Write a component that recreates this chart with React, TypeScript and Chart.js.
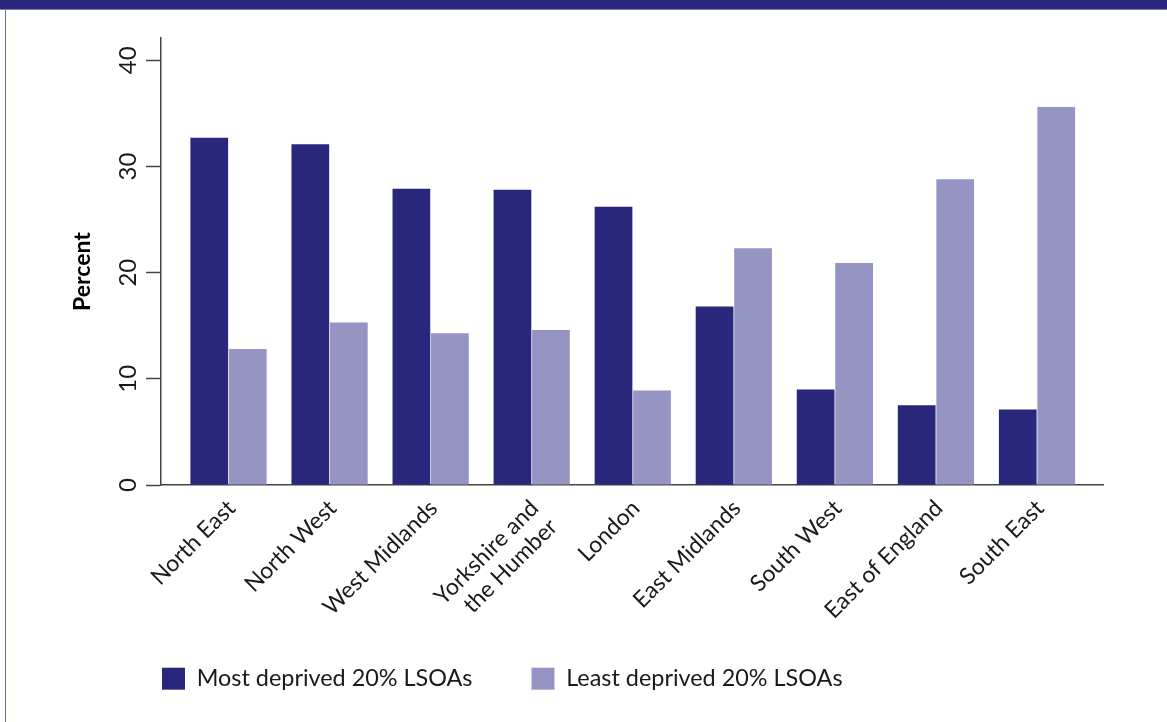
import React, { useEffect, useRef } from "react";
import { Chart, registerables } from "chart.js";

Chart.register(...registerables);

const CATEGORIES: (string | string[])[] = [
  "North East",
  "North West",
  "West Midlands",
  ["Yorkshire and", "the Humber"],
  "London",
  "East Midlands",
  "South West",
  "East of England",
  "South East",
];
const MOST_DEPRIVED = [32.7, 32.1, 27.9, 27.8, 26.2, 16.8, 9.0, 7.5, 7.1];
const LEAST_DEPRIVED = [12.8, 15.3, 14.3, 14.6, 8.9, 22.3, 20.9, 28.8, 35.6];
const SERIES_NAMES = ["Most deprived 20% LSOAs", "Least deprived 20% LSOAs"];
const Y_TICKS = [0, 10, 20, 30, 40];
const Y_TITLE = "Percent";

const DARK = "#29277c";
const LIGHT = "#9594c2";
const AXIS = "#444444";
const TEXT = "#1a1a1a";
const FONT = "Lato, 'Open Sans', sans-serif";

const LEGEND_TOP = 608;
const Y_TITLE_X = 83;
const Y_TITLE_SHIFT = 10;

const tweaks = {
  id: "tweaks",
  afterLayout(chart: any) {
    const lg = chart.legend;
    if (lg) {
      lg.top = LEGEND_TOP;
      lg.bottom = chart.height;
    }
  },
  afterDraw(chart: any) {
    const { ctx, chartArea } = chart;
    ctx.save();
    ctx.translate(Y_TITLE_X, (chartArea.top + chartArea.bottom) / 2 + Y_TITLE_SHIFT);
    ctx.rotate(-Math.PI / 2);
    ctx.font = `bold 23px ${FONT}`;
    ctx.fillStyle = "#000000";
    ctx.textAlign = "center";
    ctx.textBaseline = "middle";
    ctx.fillText(Y_TITLE, 0, 0);
    ctx.restore();
  },
};

export default function App() {
  const ref = useRef<HTMLCanvasElement | null>(null);

  useEffect(() => {
    if (!ref.current) return;
    const chart = new Chart(ref.current, {
      type: "bar",
      data: {
        datasets: [
          {
            label: SERIES_NAMES[0],
            data: MOST_DEPRIVED.map((v, i) => ({ x: i, y: v })),
            backgroundColor: DARK,
            borderWidth: 0,
          },
          {
            label: SERIES_NAMES[1],
            data: LEAST_DEPRIVED.map((v, i) => ({ x: i, y: v })),
            backgroundColor: LIGHT,
            borderWidth: 0,
          },
        ],
      },
      plugins: [tweaks],
      options: {
        animation: false,
        responsive: false,
        maintainAspectRatio: false,
        events: [],
        datasets: {
          bar: { categoryPercentage: 0.762, barPercentage: 0.98 },
        },
        layout: { padding: { left: 103, right: 64, top: 38, bottom: 0 } },
        plugins: {
          tooltip: { enabled: false },
          legend: {
            display: true,
            position: "bottom",
            align: "start",
            maxHeight: 40,
            labels: {
              boxWidth: 23,
              boxHeight: 22,
              padding: 59,
              color: TEXT,
              font: { family: FONT, size: 23.4 },
            },
          },
        },
        scales: {
          x: {
            type: "linear",
            offset: false,
            min: -0.668,
            max: 8.653,
            afterBuildTicks: (scale: any) => {
              scale.ticks = CATEGORIES.map((_, i) => ({ value: i }));
            },
            afterFit: (scale: any) => {
              scale.height = 197;
            },
            grid: { display: false, drawTicks: false, offset: false },
            border: { display: true, color: AXIS, width: 1.5 },
            ticks: {
              autoSkip: false,
              minRotation: 45,
              maxRotation: 45,
              padding: 10,
              labelOffset: 3,
              color: TEXT,
              font: { family: FONT, size: 23, lineHeight: 1.15 },
              callback: (value: any) => CATEGORIES[Math.round(Number(value))] as any,
            },
          },
          y: {
            type: "linear",
            min: 0,
            max: 42.1,
            afterBuildTicks: (scale: any) => {
              scale.ticks = Y_TICKS.map((v) => ({ value: v }));
            },
            afterFit: (scale: any) => {
              scale.width = 58;
            },
            grid: {
              display: true,
              drawOnChartArea: false,
              drawTicks: true,
              tickLength: 15,
              tickColor: AXIS,
              tickWidth: 1.5,
            },
            border: { display: true, color: AXIS, width: 1.5 },
            ticks: {
              minRotation: 90,
              maxRotation: 90,
              crossAlign: "center",
              padding: 4,
              color: TEXT,
              font: { family: FONT, size: 24 },
            },
            title: { display: false },
          },
        },
      } as any,
    });
    return () => chart.destroy();
  }, []);

  return (
    <div style={{ position: "fixed", left: 0, top: 0, width: 1167, height: 722, background: "#ffffff" }}>
      <canvas ref={ref} width={1167} height={722} style={{ position: "absolute", left: 0, top: 0, width: 1167, height: 722 }} />
      <div style={{ position: "absolute", left: 0, top: 0, width: 1167, height: 9, background: DARK }} />
      <div style={{ position: "absolute", left: 0, top: 9, width: 1167, height: 1, background: "#7d7ab8" }} />
      <div style={{ position: "absolute", left: 5, top: 10, width: 1, height: 712, background: "#6d6aad" }} />
    </div>
  );
}
